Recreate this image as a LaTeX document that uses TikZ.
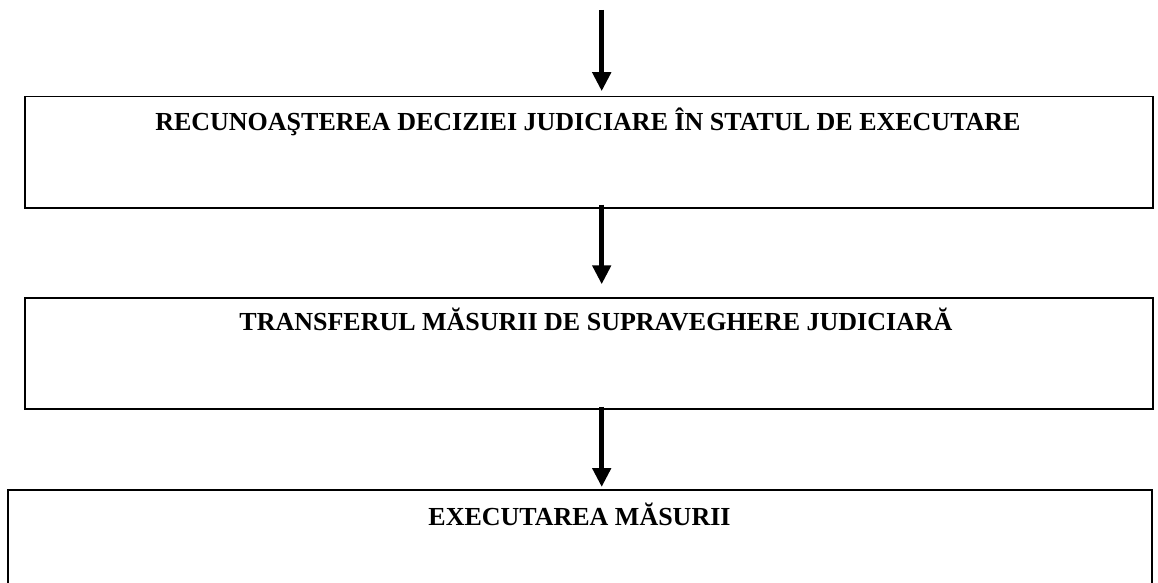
\documentclass[tikz,border=0pt]{standalone}
\usepackage{fontspec}
\setmainfont{Liberation Serif}
\usetikzlibrary{arrows.meta}
\begin{document}
\begin{tikzpicture}[x=1pt,y=-1pt,
  boxnode/.style={draw=black,line width=1.8pt,rectangle,inner sep=0pt,anchor=north west},
  boxtext/.style={font=\bfseries\fontsize{26}{30}\selectfont,inner sep=0pt,anchor=base},
  arr/.style={line width=5pt,-{Triangle[length=19pt,width=18pt]}}]
\useasboundingbox (0,0) rectangle (1158,583);
\clip (0,0) rectangle (1158,583);
\fill[white] (0,0) rectangle (1158,583);
% boxes
\node[boxnode,minimum width=1128pt,minimum height=111pt] (b1) at (24,95.7) {};
\node[boxnode,minimum width=1128pt,minimum height=111pt] (b2) at (24,297.3) {};
\node[boxnode,minimum width=1144pt,minimum height=140pt] (b3) at (7,489.3) {};
% texts
\node[boxtext] (t1) at (588,130) {RECUNOAŞTEREA DECIZIEI JUDICIARE ÎN STATUL DE EXECUTARE};
\node[boxtext] (t2) at (596,330.7) {TRANSFERUL MĂSURII DE SUPRAVEGHERE JUDICIARĂ};
\node[boxtext] (t3) at (579.5,525) {EXECUTAREA MĂSURII};
% arrows
\coordinate (ax) at (601.7,0);
\coordinate (top) at (601.7,10);
\draw[arr,shorten >=4.5pt] (top) -- (b1.north -| ax);
\draw[arr,shorten <=-4pt,shorten >=13pt] (b1.south -| ax) -- (b2.north -| ax);
\draw[arr,shorten <=-3.3pt,shorten >=2.3pt] (b2.south -| ax) -- (b3.north -| ax);
\end{tikzpicture}
\end{document}
